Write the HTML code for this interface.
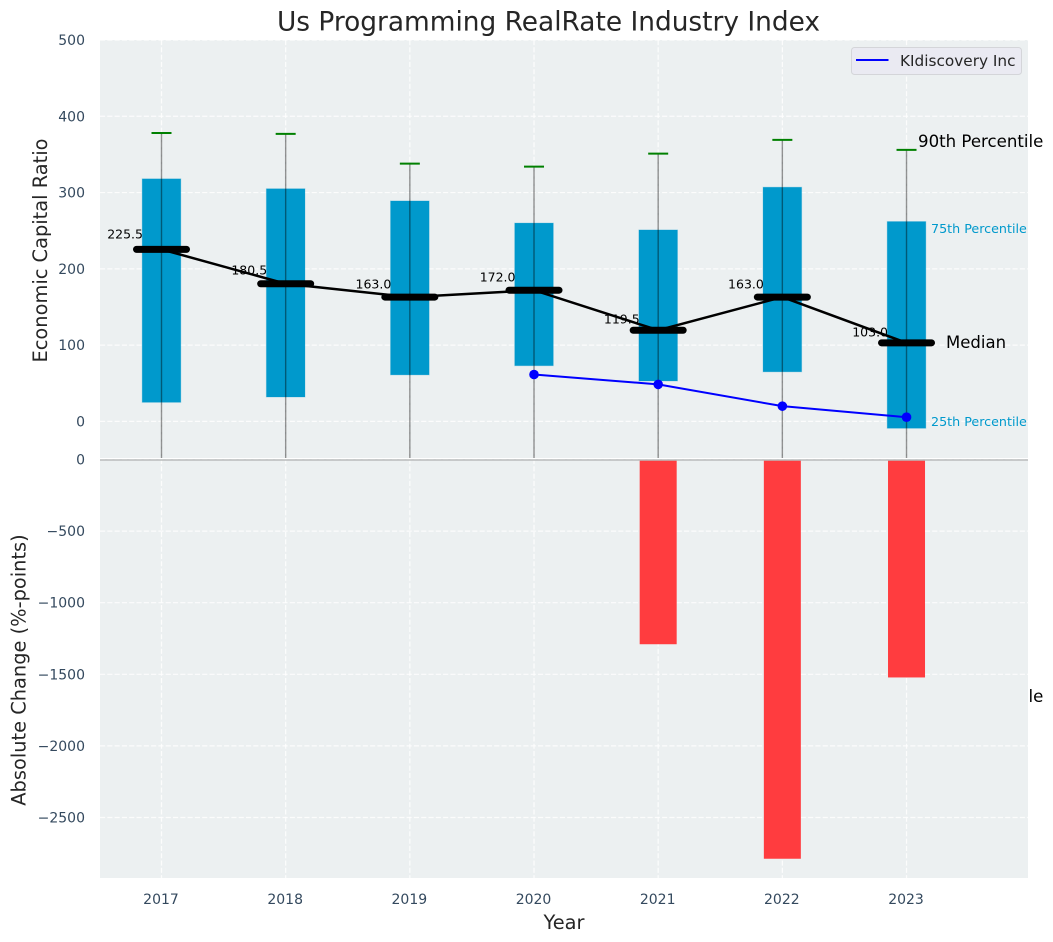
<!DOCTYPE html>
<html>
<head>
<meta charset="utf-8">
<title>Us Programming RealRate Industry Index</title>
<style>
html,body{margin:0;padding:0;background:#fff;width:1053px;height:942px;overflow:hidden}
svg{display:block}
text{font-family:"DejaVu Sans","Liberation Sans",sans-serif}
</style>
</head>
<body>
<svg id="chart" xmlns="http://www.w3.org/2000/svg" width="1053" height="942" viewBox="0 0 1053 942">
  <defs>
    <clipPath id="topClip"><rect x="100" y="40" width="928" height="418"/></clipPath>
    <clipPath id="bottomClip"><rect x="100" y="459" width="928" height="419"/></clipPath>
  </defs>
  <rect width="1053" height="942" fill="#ffffff"/>
  <text x="918" y="702" font-size="16.6" fill="#000">10th Percentile</text>
  <rect x="100" y="40" width="928" height="418" fill="#ecf0f1"/>
  <rect x="100" y="459" width="928" height="419" fill="#ecf0f1"/>
  <g id="grid"></g>
  <g id="bottomMarks" clip-path="url(#bottomClip)"></g>
  <g id="topMarks" clip-path="url(#topClip)"></g>
  <line x1="100" x2="1028" y1="460" y2="460" stroke="#b9bbbc" stroke-width="1.6"/>
  <g id="labels"></g>
  <text x="548.5" y="30.5" font-size="26.4" text-anchor="middle" fill="#262626">Us Programming RealRate Industry Index</text>
  <text x="564" y="929" font-size="19.4" text-anchor="middle" fill="#262626">Year</text>
  <text transform="translate(47,250.500) rotate(-90)" font-size="19.4" text-anchor="middle" fill="#262626">Economic Capital Ratio</text>
  <text transform="translate(25.5,670) rotate(-90)" font-size="19.4" text-anchor="middle" fill="#262626">Absolute Change (%-points)</text>
  <g>
    <rect x="851.500" y="47.500" width="170" height="27" rx="3" fill="#eaeaf2" stroke="#d4d5d9" stroke-width="1"/>
    <line x1="856" x2="888.500" y1="60" y2="60" stroke="#0000ff" stroke-width="2"/>
    <text x="900" y="66" font-size="15.3" fill="#262626">KIdiscovery Inc</text>
  </g>
</svg>
<script>
const years = [2017, 2018, 2019, 2020, 2021, 2022, 2023];
const p90 = [378, 377, 338, 334, 351, 369, 356];
const p75 = [318, 305, 289, 260, 251, 307, 262];
const medians = [225.5, 180.5, 163.0, 172.0, 119.5, 163.0, 103.0];
const p25 = [25, 32, 61, 73, 53, 65, -9];
const p10 = [-60, -60, -60, -60, -60, -60, -60];
const companyValues = [null, null, null, 61.5, 48.5, 20, 5.5];
const absoluteChange = [0, 0, 0, 0, -1290, -2788, -1522];
const topTicks = [0, 100, 200, 300, 400, 500];
const bottomTicks = [0, -500, -1000, -1500, -2000, -2500];

const NS = 'http://www.w3.org/2000/svg';
const xScale = function (i) { return 161.5 + i * 124.17; };
const yTop = function (v) { return 421.4 - v * 0.7628; };
const yBottom = function (v) { return 459.5 - v * 0.1432; };

function make(parent, tag, attrs, content) {
  const el = document.createElementNS(NS, tag);
  for (const k in attrs) el.setAttribute(k, attrs[k]);
  if (content !== undefined) el.textContent = content;
  parent.appendChild(el);
  return el;
}

const grid = document.getElementById('grid');
const topMarks = document.getElementById('topMarks');
const bottomMarks = document.getElementById('bottomMarks');
const labels = document.getElementById('labels');
const dash = { stroke: '#ffffff', 'stroke-width': 1.2, 'stroke-dasharray': '5.1,2.2', opacity: 0.85 };

topTicks.forEach(function (t) {
  const y = yTop(t);
  const g = make(grid, 'line', Object.assign({ x1: 100, x2: 1028, y1: y, y2: y }, dash));
  
  
  const l = make(labels, 'text', { x: 85, y: y + 5, 'font-size': 14, 'text-anchor': 'end', fill: '#34495e' }, String(t));
  
  
});

bottomTicks.forEach(function (t) {
  const y = yBottom(t);
  const g = make(grid, 'line', Object.assign({ x1: 100, x2: 1028, y1: y, y2: y }, dash));
  
  
  const text = t < 0 ? '\u2212' + Math.abs(t) : String(t);
  const l = make(labels, 'text', { x: 85, y: y + 5, 'font-size': 14, 'text-anchor': 'end', fill: '#34495e' }, text);
  
  
});

years.forEach(function (yr, i) {
  const x = xScale(i);
  const g1 = make(grid, 'line', Object.assign({ x1: x, x2: x, y1: 40, y2: 458 }, dash));
  
  
  const g2 = make(grid, 'line', Object.assign({ x1: x, x2: x, y1: 459, y2: 878 }, dash));
  
  
  const l = make(labels, 'text', { x: x - 0.5, y: 904, 'font-size': 14, 'text-anchor': 'middle', fill: '#34495e' }, String(yr));
  
  
});

absoluteChange.forEach(function (v, i) {
  if (v === 0) return;
  const y = yBottom(v);
  const b = make(bottomMarks, 'rect', { x: xScale(i) - 18.5, y: yBottom(0), width: 37, height: y - yBottom(0), fill: '#ff3c3f' });
  
  
});

years.forEach(function (yr, i) {
  const x = xScale(i);
  const box = make(topMarks, 'rect', { x: x - 19.3, y: yTop(p75[i]), width: 38.6, height: yTop(p25[i]) - yTop(p75[i]), fill: '#0099cc', stroke: '#0099cc', 'stroke-opacity': 0.25, 'stroke-width': 1 });
  
  
});

const medianPoints = medians.map(function (m, i) { return xScale(i) + ',' + yTop(m); }).join(' ');
const medianLine = make(topMarks, 'polyline', { points: medianPoints, fill: 'none', stroke: '#000', 'stroke-width': 2.5 });



years.forEach(function (yr, i) {
  const x = xScale(i);
  const w = make(topMarks, 'line', { x1: x, x2: x, y1: yTop(p90[i]), y2: yTop(p10[i]), stroke: '#000', 'stroke-opacity': 0.42, 'stroke-width': 1.4 });
  
  
  const c = make(topMarks, 'line', { x1: x - 10, x2: x + 10, y1: yTop(p90[i]), y2: yTop(p90[i]), stroke: '#008000', 'stroke-width': 2 });
  
  
  const m = make(topMarks, 'line', { x1: x - 25, x2: x + 25, y1: yTop(medians[i]), y2: yTop(medians[i]), stroke: '#000', 'stroke-width': 7, 'stroke-linecap': 'round' });
  
  
  const t = make(labels, 'text', { x: x - 18.5, y: yTop(medians[i] * 1.05) - 2.3, 'font-size': 12.5, 'text-anchor': 'end', fill: '#000' }, medians[i].toFixed(1));
  
  
});

const companyPoints = [];
companyValues.forEach(function (v, i) {
  if (v !== null) companyPoints.push(xScale(i) + ',' + yTop(v));
});
const companyLine = make(topMarks, 'polyline', { points: companyPoints.join(' '), fill: 'none', stroke: '#0000ff', 'stroke-width': 2 });


companyValues.forEach(function (v, i) {
  if (v === null) return;
  const d = make(topMarks, 'circle', { cx: xScale(i), cy: yTop(v), r: 4.8, fill: '#0000ff' });
  
  
});

const last = years.length - 1;
const lastX = xScale(last);
const a90 = make(labels, 'text', { x: lastX + 11.5, y: yTop(p90[last]) - 3, 'font-size': 16.6, fill: '#000' }, '90th Percentile');


const a75 = make(labels, 'text', { x: lastX + 24.5, y: yTop(p75[last]) + 11.500, 'font-size': 12.7, fill: '#0099cc' }, '75th Percentile');


const aMed = make(labels, 'text', { x: lastX + 39.5, y: yTop(medians[last]) + 5, 'font-size': 16.5, fill: '#000' }, 'Median');


const a25 = make(labels, 'text', { x: lastX + 24.5, y: yTop(p25[last]) - 2.500, 'font-size': 12.7, fill: '#0099cc' }, '25th Percentile');


</script>
</body>
</html>
